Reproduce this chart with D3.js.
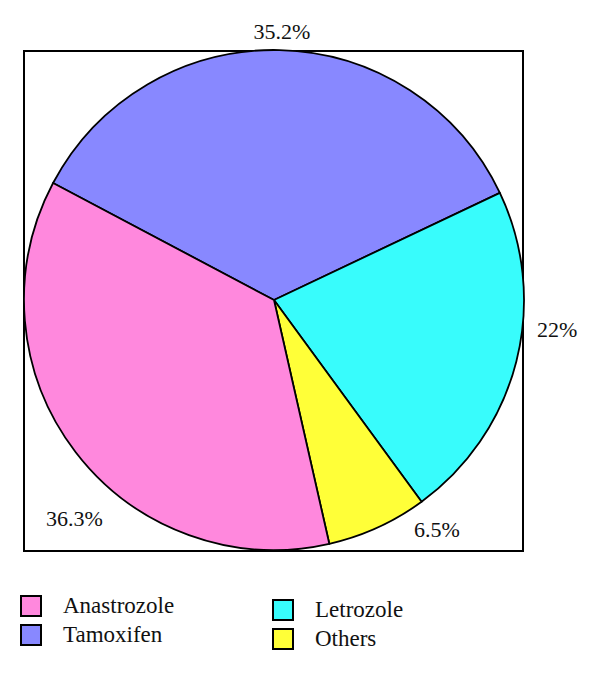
<!DOCTYPE html>
<html>
<head>
<meta charset="utf-8">
<script src="https://cdn.jsdelivr.net/npm/d3@7"></script>
<style>
  html, body { margin: 0; padding: 0; background: #fff; }
  svg text { font-family: "Liberation Serif", "DejaVu Serif", serif; fill: #111; }
</style>
</head>
<body>
<svg id="chart" width="600" height="676"></svg>
<script>
// Data (pie order, clockwise from the Tamoxifen slice)
const categories = ["Tamoxifen", "Letrozole", "Others", "Anastrozole"];
const values = [35.2, 22, 6.5, 36.3];
const valueLabels = ["35.2%", "22%", "6.5%", "36.3%"];
const legendOrder = ["Anastrozole", "Tamoxifen", "Letrozole", "Others"];

const colors = {
  Tamoxifen: "#8888ff",
  Letrozole: "#38fcfc",
  Others: "#ffff38",
  Anastrozole: "#ff88dd"
};

const svg = d3.select("#chart");
const box = { x: 24, y: 51, w: 499, h: 500 };
const cx = 274, cy = 300, r = 250;

svg.append("rect")
  .attr("x", box.x).attr("y", box.y)
  .attr("width", box.w).attr("height", box.h)
  .attr("fill", "none").attr("stroke", "#000").attr("stroke-width", 2);

const startDeg = -62.1;
const pie = d3.pie().sort(null).value(d => d.v)
  .startAngle(startDeg * Math.PI / 180)
  .endAngle((startDeg + 360) * Math.PI / 180);
const arc = d3.arc().innerRadius(0).outerRadius(r);

const data = categories.map((c, i) => ({ c, v: values[i], label: valueLabels[i] }));
const arcs = pie(data);

const g = svg.append("g").attr("transform", `translate(${cx},${cy})`);
g.selectAll("path").data(arcs).enter().append("path")
  .attr("d", arc)
  .attr("fill", d => colors[d.data.c])
  .attr("stroke", "#000")
  .attr("stroke-width", 1.8)
  .attr("stroke-linejoin", "round");

// label placement (relative to pie centre), manual as in reference
const labelPos = {
  Tamoxifen: [8, -261, "middle"],
  Letrozole: [263, 37, "start"],
  Others: [140, 237, "start"],
  Anastrozole: [-228, 226, "start"]
};
g.selectAll("text.lbl").data(arcs).enter().append("text")
  .attr("class", "lbl")
  .attr("x", d => labelPos[d.data.c][0])
  .attr("y", d => labelPos[d.data.c][1])
  .attr("text-anchor", d => labelPos[d.data.c][2])
  .attr("font-size", 22)
  .text(d => d.data.label);

// Legend
const legendPos = {
  Anastrozole: [21, 596],
  Tamoxifen: [21, 625],
  Letrozole: [273, 600],
  Others: [273, 629]
};
const lg = svg.selectAll("g.leg").data(legendOrder).enter().append("g")
  .attr("class", "leg")
  .attr("transform", d => `translate(${legendPos[d][0]},${legendPos[d][1]})`);
lg.append("rect")
  .attr("width", 20).attr("height", 20)
  .attr("fill", d => colors[d])
  .attr("stroke", "#000").attr("stroke-width", 2);
lg.append("text")
  .attr("x", 42).attr("y", 17)
  .attr("font-size", 23)
  .text(d => d);
</script>
</body>
</html>
